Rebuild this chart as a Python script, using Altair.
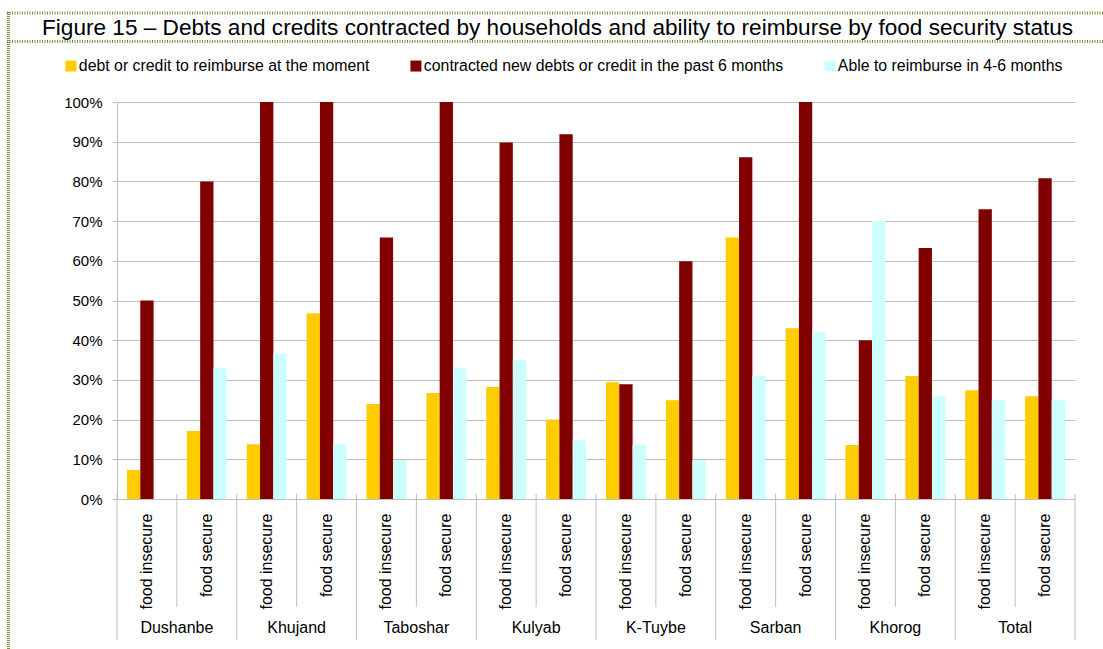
import altair as alt
import pandas as pd

# ---------------- data ----------------
regions = ["Dushanbe", "Khujand", "Taboshar", "Kulyab", "K-Tuybe", "Sarban", "Khorog", "Total"]
statuses = ["food insecure", "food secure"]
series_names = [
    "debt or credit to reimburse at the moment",
    "contracted new debts or credit in the past 6 months",
    "Able to reimburse in 4-6 months",
]
series_colors = ["#FFCC00", "#800000", "#CCFFFF"]

# values in %, order: region x status (insecure, secure)
debt_now = [7.3, 17.1, 13.8, 46.8, 23.9, 26.7, 28.2, 20.0, 29.4, 24.9, 65.9, 43.0, 13.6, 31.0, 27.4, 25.9]
new_debt = [50.0, 80.0, 100.0, 100.0, 65.9, 100.0, 89.8, 91.9, 28.9, 59.9, 86.1, 100.0, 40.0, 63.2, 73.0, 80.8]
able_reimb = [0.0, 33.0, 36.5, 13.8, 9.8, 33.0, 35.0, 14.8, 13.6, 9.8, 31.0, 42.0, 70.0, 25.9, 24.9, 24.9]

y_ticks = [i / 10 for i in range(11)]
title_text = ("Figure 15 \u2013 Debts and credits contracted by households and ability "
              "to reimburse by food security status")

# ---------------- tables ----------------
keys = [f"{r}|{s}" for r in regions for s in statuses]
rows = []
for name, vals in zip(series_names, [debt_now, new_debt, able_reimb]):
    for k, v in zip(keys, vals):
        rows.append({"key": k, "series": name, "value": v / 100.0})
df = pd.DataFrame(rows)

region_start = pd.DataFrame({"key": [f"{r}|food insecure" for r in regions], "region": regions})
region_mid = pd.DataFrame({"key": [f"{r}|food secure" for r in regions], "region": regions})
region_end = pd.DataFrame({"key": [keys[-1]]})
one = pd.DataFrame({"d": [0]})
title_df = pd.DataFrame({"t": [title_text]})

W, H = 958, 397
FONT = "Liberation Sans"
GRAY = "#BFBFBF"
GREEN = "#77933C"

xscale = alt.Scale(domain=keys, paddingInner=0, paddingOuter=0)

bars = alt.Chart(df).mark_bar().encode(
    x=alt.X("key:N", scale=xscale, title=None,
            axis=alt.Axis(labelAngle=-90, labelAlign="right", labelBaseline="middle",
                          labelExpr="split(datum.label, '|')[1]", ticks=False,
                          labelPadding=14, labelFontSize=16, labelFont=FONT,
                          labelColor="#000000", domainColor=GRAY, labelLimit=300,
                          labelOverlap=False)),
    xOffset=alt.XOffset("series:N",
                        scale=alt.Scale(domain=series_names, paddingInner=0, paddingOuter=0.75)),
    y=alt.Y("value:Q", scale=alt.Scale(domain=[0, 1], nice=False), title=None,
            axis=alt.Axis(values=y_ticks, format=".0%", grid=True, gridColor=GRAY,
                          domainColor=GRAY, tickColor=GRAY, tickSize=5, labelPadding=10,
                          labelFontSize=15, labelFont=FONT, labelColor="#000000")),
    color=alt.Color("series:N", scale=alt.Scale(domain=series_names, range=series_colors),
                    legend=alt.Legend(title=None, orient="none", legendX=-54, legendY=-44,
                                      direction="horizontal", columnPadding=38,
                                      symbolType="square", symbolSize=121,
                                      symbolStrokeWidth=0, labelFontSize=15.85, labelFont=FONT,
                                      labelColor="#000000", labelOffset=0, labelLimit=500)),
)

# separators below the axis
def sep(data, pos, y2):
    return alt.Chart(data).mark_rule(color=GRAY, strokeWidth=1).encode(
        x=alt.X("key:N", bandPosition=pos, scale=xscale),
        y=alt.value(H - 5), y2=alt.value(y2))

sep_region = sep(region_start, 0, H + 141)
sep_end = sep(region_end, 1, H + 141)
sep_cat = sep(region_mid, 0, H + 108)

region_labels = alt.Chart(region_mid).mark_text(
    fontSize=16, font=FONT, color="#000000", align="center", baseline="middle").encode(
    x=alt.X("key:N", bandPosition=0, scale=xscale),
    y=alt.value(H + 129),
    text="region:N")

# dotted green frame
frame_top = alt.Chart(one).mark_rule(color=GREEN, strokeWidth=3, strokeDash=[1, 1.5]).encode(
    x=alt.value(-110), x2=alt.value(990), y=alt.value(-89))
frame_mid = alt.Chart(one).mark_rule(color=GREEN, strokeWidth=3, strokeDash=[1, 1.5]).encode(
    x=alt.value(-110), x2=alt.value(990), y=alt.value(-60.5))
frame_left = alt.Chart(one).mark_rule(color=GREEN, strokeWidth=3, strokeDash=[1, 1]).encode(
    x=alt.value(-108.5), y=alt.value(-90), y2=alt.value(550))

title = alt.Chart(title_df).mark_text(
    fontSize=22.6, font=FONT, color="#000000", align="left", baseline="alphabetic").encode(
    x=alt.value(-75), y=alt.value(-67), text="t:N")

chart = alt.layer(
    bars, sep_region, sep_end, sep_cat, region_labels, frame_top, frame_mid, frame_left, title
).properties(
    width=W, height=H,
    autosize=alt.AutoSizeParams(type="none"),
    padding={"left": 117, "top": 102, "right": 28, "bottom": 150},
    background="white",
).configure_view(strokeWidth=0)

chart.save("out.html", embed_options={"renderer": "svg", "actions": False})
